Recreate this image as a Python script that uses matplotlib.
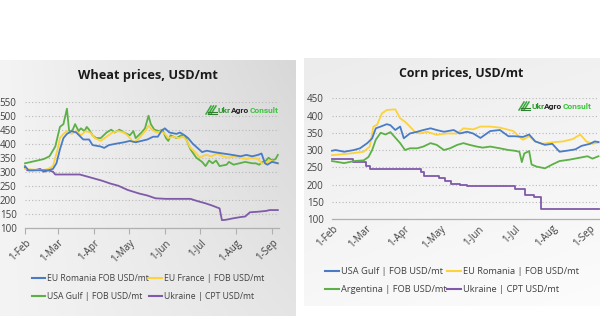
import numpy as np
import matplotlib
matplotlib.use("Agg")
import matplotlib.pyplot as plt
from matplotlib.lines import Line2D

plt.rcParams['font.family'] = ['Open Sans', 'DejaVu Sans']

W, H = 600, 329

# month ticks, days counted from 1-Feb
month_days = [0, 28, 59, 89, 120, 150, 181, 212]
month_labels = ['1-Feb', '1-Mar', '1-Apr', '1-May', '1-Jun', '1-Jul', '1-Aug', '1-Sep']

# ---- wheat ----
wh_romania_d = [0, 3, 20, 24, 27, 30, 33, 36, 40, 44, 50, 55, 58, 65, 68, 72, 78, 85, 90, 95, 100, 105, 110,
                114, 117, 120, 124, 130, 133, 137, 140, 144, 148, 152, 156, 162, 170, 178, 185, 190, 195,
                200, 203, 206, 208, 212, 217]
wh_romania = [320, 305, 305, 310, 330, 380, 420, 435, 445, 440, 415, 415, 395, 390, 385, 395, 400, 405, 410,
              405, 410, 415, 425, 425, 445, 455, 440, 435, 440, 430, 420, 400, 385, 370, 375, 370, 365, 360,
              355, 360, 355, 360, 365, 330, 325, 335, 330]
wh_france_d = [0, 15, 20, 24, 26, 28, 30, 33, 36, 40, 44, 48, 52, 56, 60, 65, 70, 75, 80, 85, 88, 93, 97, 100,
               104, 106, 109, 113, 117, 120, 123, 127, 132, 136, 139, 142, 146, 150, 155, 160, 165, 170, 175,
               180, 185, 190, 195, 200, 203, 207, 210, 214, 217]
wh_france = [310, 305, 310, 320, 350, 380, 420, 435, 445, 435, 445, 430, 445, 440, 420, 410, 425, 440, 445,
             440, 430, 405, 415, 430, 450, 465, 450, 440, 445, 435, 420, 425, 420, 425, 410, 385, 370, 350,
             360, 355, 365, 355, 350, 355, 350, 345, 350, 345, 330, 330, 340, 335, 330]
wh_usa_d = [0, 16, 21, 26, 30, 33, 36, 38, 41, 43, 46, 48, 51, 53, 55, 58, 61, 65, 70, 74, 77, 81, 85, 90, 93,
            95, 100, 103, 106, 108, 111, 115, 118, 121, 123, 125, 130, 134, 138, 142, 147, 152, 155, 158, 161,
            164, 167, 173, 175, 179, 184, 189, 195, 198, 201, 204, 207, 209, 212, 215, 217]
wh_usa = [330, 345, 355, 390, 460, 470, 525, 440, 450, 470, 445, 455, 445, 460, 450, 430, 420, 420, 440, 450,
          440, 450, 440, 430, 445, 420, 440, 455, 500, 470, 450, 445, 450, 420, 410, 430, 420, 430, 420, 380,
          350, 335, 320, 340, 330, 340, 320, 325, 335, 325, 330, 335, 330, 330, 325, 335, 340, 350, 340, 345, 360]
wh_ukraine_d = [0, 2, 8, 13, 16, 20, 24, 26, 47, 54, 60, 66, 73, 80, 88, 98, 105, 112, 121, 142, 148, 155, 160,
                167, 169, 172, 178, 185, 189, 193, 200, 207, 210, 217]
wh_ukraine = [315, 305, 305, 310, 300, 305, 300, 290, 290, 282, 275, 268, 258, 250, 235, 222, 215, 205, 203,
              203, 195, 187, 180, 169, 127, 128, 133, 138, 140, 155, 157, 160, 163, 163]

# ---- corn ----
cn_usa_d = [0, 3, 10, 18, 23, 29, 33, 36, 40, 45, 48, 52, 56, 59, 64, 70, 75, 81, 86, 92, 100, 105, 111, 116,
            122, 130, 138, 145, 150, 157, 162, 167, 175, 181, 187, 193, 200, 205, 212, 216, 219]
cn_usa = [298, 300, 295, 300, 305, 320, 334, 363, 368, 375, 372, 358, 368, 334, 348, 353, 358, 363, 358, 353,
          358, 348, 353, 348, 335, 355, 358, 340, 340, 338, 345, 325, 315, 318, 295, 298, 302, 312, 318, 325, 323]
cn_romania_d = [0, 15, 26, 31, 34, 37, 41, 45, 52, 56, 60, 64, 68, 72, 78, 86, 94, 103, 108, 116, 122, 130, 138,
                149, 155, 157, 162, 167, 173, 180, 190, 198, 204, 209, 214, 219]
cn_romania = [285, 290, 295, 310, 368, 373, 406, 416, 418, 392, 382, 368, 353, 348, 353, 344, 348, 348, 363,
              360, 368, 368, 365, 355, 335, 330, 340, 325, 318, 322, 325, 332, 345, 325, 318, 322]
cn_arg_d = [0, 10, 18, 26, 30, 33, 36, 40, 44, 48, 51, 56, 60, 64, 70, 75, 81, 86, 92, 97, 103, 108, 113, 119,
            124, 130, 138, 145, 150, 154, 156, 158, 162, 164, 168, 175, 181, 187, 195, 204, 210, 214, 219]
cn_arg = [268, 262, 268, 270, 280, 300, 330, 350, 345, 352, 340, 320, 300, 305, 305, 310, 320, 315, 300, 305,
          315, 320, 315, 310, 307, 310, 305, 300, 298, 295, 265, 290, 297, 258, 252, 247, 258, 268, 272, 278,
          282, 275, 282]
cn_ukraine_d = [0, 15, 17, 24, 28, 31, 70, 73, 76, 88, 93, 98, 105, 111, 149, 150, 158, 159, 165, 166, 171, 172, 219]
cn_ukraine = [275, 275, 265, 265, 255, 245, 245, 235, 225, 220, 210, 202, 198, 195, 195, 188, 188, 170, 170,
              163, 163, 130, 130]

BLUE, YELLOW, GREEN, PURPLE = '#4a7cc6', '#fcd33c', '#5cb046', '#7f5aa8'
TXT = '#404040'


def rect(l, t, r, b):
    return [l / W, 1 - b / H, (r - l) / W, (b - t) / H]


fig = plt.figure(figsize=(W / 100, H / 100), dpi=100)


# panel backgrounds (soft gradients)
def panel(l, t, r, b, c0, c1, mode):
    bg = fig.add_axes(rect(l, t, r, b), zorder=-5)
    g = np.linspace(0, 1, 256)
    if mode == 'h':
        grad = np.outer(1 - 0.45 * g, g)      # darker to the top-right
    else:
        grad = np.add.outer(g, 0.4 * g) / 1.4  # lighter to the bottom-right
    c0 = np.array(matplotlib.colors.to_rgb(c0))
    c1 = np.array(matplotlib.colors.to_rgb(c1))
    img = c0 + (c1 - c0) * grad[..., None]
    bg.imshow(img, aspect='auto', extent=(0, 1, 0, 1))
    bg.axis('off')


panel(0, 60, 296, 316, '#f4f4f4', '#d8d8d8', 'h')
panel(304, 58, 600, 306, '#ececec', '#fcfcfc', 'v')


def style(ax, yticks, ticks_out):
    for s in ['top', 'right', 'left']:
        ax.spines[s].set_visible(False)
    ax.spines['bottom'].set_color('#b0b0b0')
    ax.spines['bottom'].set_linewidth(0.9)
    ax.set_facecolor('none')
    ax.set_yticks(yticks)
    ax.yaxis.grid(True, linestyle=(0, (1, 2)), color='#b8b8b8', linewidth=0.8)
    ax.set_axisbelow(True)
    ax.tick_params(axis='y', length=0, pad=6, labelsize=7, labelcolor=TXT)
    ax.set_xticks(month_days)
    ax.set_xticklabels(month_labels, rotation=45, ha='right', rotation_mode='anchor')
    ax.tick_params(axis='x', labelsize=7, labelcolor=TXT, length=4 if ticks_out else 0,
                   color='#b0b0b0', pad=3)


lw = 1.3

# wheat
ax1 = fig.add_axes(rect(25, 101.7, 279, 227.7))
ax1.plot(wh_ukraine_d, wh_ukraine, color=PURPLE, lw=lw, clip_on=False)
ax1.plot(wh_usa_d, wh_usa, color=GREEN, lw=lw, clip_on=False)
ax1.plot(wh_france_d, wh_france, color=YELLOW, lw=lw, clip_on=False)
ax1.plot(wh_romania_d, wh_romania, color=BLUE, lw=lw, clip_on=False)
ax1.set_xlim(0, 218)
ax1.set_ylim(100, 550)
style(ax1, range(100, 551, 50), True)

# corn
ax2 = fig.add_axes(rect(332, 98.3, 598.5, 219))
ax2.plot(cn_ukraine_d, cn_ukraine, color=PURPLE, lw=lw, drawstyle='steps-post', clip_on=False)
ax2.plot(cn_arg_d, cn_arg, color=GREEN, lw=lw, clip_on=False)
ax2.plot(cn_romania_d, cn_romania, color=YELLOW, lw=lw, clip_on=False)
ax2.plot(cn_usa_d, cn_usa, color=BLUE, lw=lw, clip_on=False)
ax2.set_xlim(0, 219)
ax2.set_ylim(100, 450)
style(ax2, range(100, 451, 50), False)

# titles
fig.text(148 / W, 1 - 75 / H, 'Wheat prices, USD/mt', ha='center', va='center',
         fontsize=9.2, fontweight='bold', color='#1a1a1a')
fig.text(461 / W, 1 - 73 / H, 'Corn prices, USD/mt', ha='center', va='center',
         fontsize=8.9, fontweight='bold', color='#1a1a1a')

renderer = fig.canvas.get_renderer()


# UkrAgroConsult logo: icon + three-coloured word
def logo(x, y):
    for k in range(3):
        fig.add_artist(Line2D([(x + k * 2.5) / W, (x + 5 + k * 2.5) / W],
                              [1 - (y + 4) / H, 1 - (y - 4) / H], color='#3aa83a', lw=1.1))
    fig.add_artist(Line2D([(x + 2) / W, (x + 11) / W], [1 - (y + 1.5) / H] * 2, color='#2f7d2f', lw=0.8))
    fig.add_artist(Line2D([(x + 2) / W, (x + 11) / W], [1 - (y + 4) / H] * 2, color='#2f7d2f', lw=0.8))
    px = x + 12
    for word, col in [('Ukr', '#2f9a2f'), ('Agro', '#222222'), ('Consult', '#3cc43c')]:
        t = fig.text(px / W, 1 - (y + 3) / H, word, color=col, va='baseline',
                     fontsize=6.0, fontweight='bold', family='Roboto')
        px = t.get_window_extent(renderer).x1


logo(206, 110)
logo(519, 106)


# legends
def legend(handles, labels, x, y, fs, ls, cs):
    fig.legend(handles, labels, ncol=2, loc='upper left', bbox_to_anchor=(x / W, 1 - y / H),
               frameon=False, fontsize=fs, handlelength=1.5, handletextpad=0.2, columnspacing=cs,
               labelspacing=ls, borderaxespad=0, borderpad=0, labelcolor=TXT)


h = lambda c: Line2D([], [], color=c, lw=1.5)
legend([h(BLUE), h(GREEN), h(YELLOW), h(PURPLE)],
       ['EU Romania FOB USD/mt', 'USA Gulf | FOB USD/mt', 'EU France | FOB USD/mt', 'Ukraine | CPT USD/mt'],
       32, 274, 6.2, 1.1, 0.1)
legend([h(BLUE), h(GREEN), h(YELLOW), h(PURPLE)],
       ['USA Gulf | FOB USD/mt', 'Argentina | FOB USD/mt', 'EU Romania | FOB USD/mt', 'Ukraine | CPT USD/mt'],
       325, 267, 6.7, 0.95, 0.05)

fig.savefig('out.png', dpi=100)
